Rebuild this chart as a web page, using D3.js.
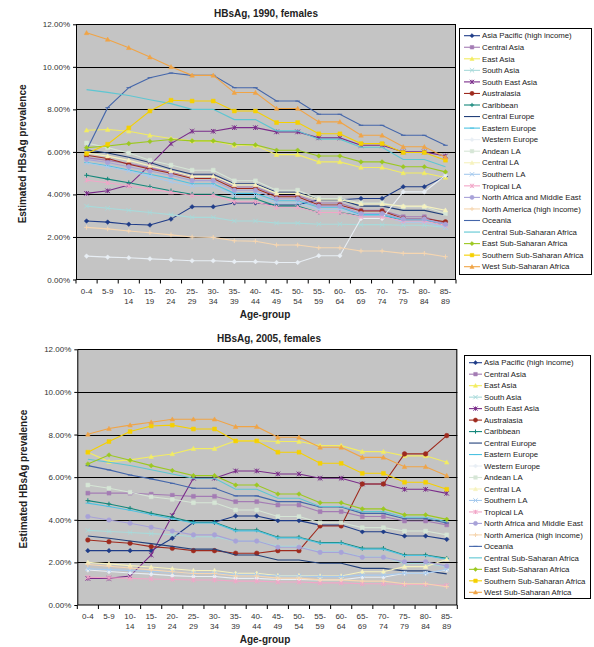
<!DOCTYPE html>
<html><head><meta charset="utf-8">
<script src="https://cdn.jsdelivr.net/npm/d3@7"></script>
<style>
html,body{margin:0;padding:0;background:#fff;}
svg{display:block;font-family:"Liberation Sans",Arial,sans-serif;}
</style></head>
<body><svg id="chart" width="594" height="647"></svg>
<script>
// ---- categories ----
const ageGroups = ["0-4","5-9","10-14","15-19","20-24","25-29","30-34","35-39","40-44","45-49","50-54","55-59","60-64","65-69","70-74","75-79","80-84","85-89"];
const yTicks = [0,2,4,6,8,10,12];
const seriesNames = ["Asia Pacific (high income)","Central Asia","East Asia","South Asia","South East Asia","Australasia","Caribbean","Central Europe","Eastern Europe","Western Europe","Andean LA","Central LA","Southern LA","Tropical LA","North Africa and Middle East","North America (high income)","Oceania","Central Sub-Saharan Africa","East Sub-Saharan Africa","Southern Sub-Saharan Africa","West Sub-Saharan Africa"];
const seriesColors = ["#1F3C88","#A47CB4","#F2EC62","#A8DADA","#7A2C8A","#9E2A1E","#14877A","#22407A","#4CC2E2","#E8EEF4","#D6E6D6","#F6F2BE","#A6CAEE","#F2A6C8","#A8A2D8","#F6D6B0","#4466AA","#5EC6D2","#9CC820","#F5D000","#F0A446"];
const seriesMarkers = ["diamond","square","triangle","x","asterisk","circle","plus","none","dash","diamond","square","triangle","x","asterisk","circle","plus","dash","none","diamond","square","triangle"];

// ---- 1990 females (% prevalence) ----
const asiaPacific1990   = [2.75,2.70,2.60,2.56,2.84,3.42,3.42,3.60,3.60,3.50,3.50,3.75,3.75,3.81,3.81,4.36,4.36,4.86];
const centralAsia1990   = [5.73,5.60,5.45,5.25,5.05,4.85,4.85,4.35,4.35,3.95,3.95,3.60,3.60,3.25,3.25,2.95,2.95,2.62];
const eastAsia1990      = [7.02,7.05,6.97,6.78,6.63,6.52,6.52,6.31,6.31,5.87,5.87,5.53,5.53,5.27,5.27,5.01,5.01,4.80];
const southAsia1990     = [3.45,3.35,3.25,3.15,3.05,2.92,2.92,2.75,2.75,2.65,2.65,2.60,2.60,2.58,2.58,2.55,2.55,2.45];
const southEastAsia1990 = [4.05,4.17,4.44,5.38,6.39,6.97,6.97,7.14,7.14,6.94,6.94,6.66,6.66,6.31,6.31,6.00,6.00,5.81];
const australasia1990   = [5.84,5.69,5.42,5.20,5.00,4.75,4.75,4.28,4.28,3.89,3.89,3.50,3.50,3.22,3.22,2.87,2.87,2.71];
const caribbean1990     = [4.90,4.72,4.55,4.36,4.17,4.01,4.01,3.80,3.80,3.45,3.45,3.15,3.15,3.00,3.00,2.80,2.80,2.55];
const centralEurope1990 = [6.10,5.95,5.75,5.50,5.20,4.95,4.95,4.50,4.50,4.10,4.10,3.75,3.75,3.45,3.45,3.25,3.25,3.03];
const easternEurope1990 = [5.50,5.35,5.15,4.95,4.75,4.50,4.50,4.05,4.05,3.70,3.70,3.40,3.40,3.05,3.05,2.80,2.80,2.60];
const westernEurope1990 = [1.10,1.05,1.02,0.97,0.93,0.88,0.88,0.84,0.84,0.80,0.80,1.12,1.12,2.87,2.87,4.12,4.12,4.90];
const andeanLA1990      = [6.42,6.20,5.95,5.61,5.38,5.14,5.14,4.64,4.64,4.20,4.20,3.81,3.81,3.60,3.60,3.42,3.42,3.10];
const centralLA1990     = [5.95,5.80,5.60,5.35,5.10,4.85,4.85,4.45,4.45,4.05,4.05,3.75,3.75,3.55,3.55,3.45,3.45,3.26];
const southernLA1990    = [5.48,5.30,5.10,4.85,4.60,4.40,4.40,3.95,3.95,3.60,3.60,3.30,3.30,3.00,3.00,2.70,2.70,2.45];
const tropicalLA1990    = [4.67,4.55,4.40,4.25,4.10,3.95,3.95,3.65,3.65,3.40,3.40,3.15,3.15,2.95,2.95,2.75,2.75,2.55];
const northAfricaME1990 = [5.65,5.50,5.30,5.10,4.90,4.65,4.65,4.20,4.20,3.80,3.80,3.45,3.45,3.10,3.10,2.85,2.85,2.60];
const northAmerica1990  = [2.45,2.38,2.28,2.20,2.10,2.00,1.98,1.82,1.80,1.62,1.62,1.49,1.49,1.34,1.34,1.23,1.23,1.07];
const oceania1990       = [6.08,8.08,9.02,9.49,9.71,9.60,9.60,9.02,9.02,8.39,8.39,7.77,7.77,7.25,7.25,6.78,6.78,6.31];
const centralSSA1990    = [8.93,8.80,8.65,8.45,8.27,8.00,8.00,7.52,7.52,6.99,6.99,6.60,6.60,6.22,6.22,5.64,5.64,5.30];
const eastSSA1990       = [6.20,6.28,6.39,6.49,6.58,6.52,6.52,6.36,6.33,6.08,6.08,5.81,5.81,5.53,5.53,5.30,5.30,5.06];
const southernSSA1990   = [5.92,6.36,7.13,7.92,8.43,8.39,8.39,7.92,7.92,7.38,7.38,6.85,6.85,6.39,6.39,5.97,5.97,5.61];
const westSSA1990       = [11.60,11.29,10.90,10.46,10.00,9.60,9.60,8.79,8.79,8.04,8.04,7.41,7.41,6.78,6.78,6.24,6.24,5.75];

// ---- 2005 females (% prevalence) ----
const asiaPacific2005   = [2.55,2.55,2.55,2.55,3.13,3.88,3.88,4.18,4.18,3.96,3.96,3.75,3.75,3.44,3.44,3.24,3.24,3.08];
const centralAsia2005   = [5.25,5.25,5.25,5.20,5.15,5.10,5.10,4.85,4.85,4.69,4.69,4.38,4.38,4.15,4.15,3.94,3.94,3.76];
const eastAsia2005      = [7.17,6.73,6.81,6.96,7.09,7.34,7.34,7.71,7.71,7.67,7.67,7.48,7.48,7.20,7.20,7.00,7.00,6.70];
const southAsia2005     = [3.50,3.45,3.40,3.35,3.30,3.20,3.20,3.00,3.00,2.75,2.75,2.50,2.50,2.25,2.25,1.95,1.95,1.80];
const southEastAsia2005 = [1.25,1.25,1.36,2.35,4.20,5.95,5.95,6.29,6.29,6.15,6.15,5.95,5.95,5.68,5.68,5.43,5.43,5.24];
const australasia2005   = [3.05,2.97,2.90,2.74,2.66,2.55,2.55,2.43,2.43,2.55,2.55,3.71,3.71,5.68,5.68,7.09,7.09,7.95];
const caribbean2005     = [4.90,4.74,4.54,4.30,4.12,3.88,3.88,3.52,3.52,3.18,3.18,2.93,2.93,2.66,2.66,2.35,2.35,2.19];
const centralEurope2005 = [3.24,3.13,3.00,2.88,2.75,2.62,2.62,2.35,2.35,2.11,2.11,1.96,1.96,1.72,1.72,1.60,1.60,1.46];
const easternEurope2005 = [4.78,4.62,4.45,4.25,4.05,3.85,3.85,3.48,3.48,3.15,3.15,2.90,2.90,2.62,2.62,2.32,2.32,2.15];
const westernEurope2005 = [1.64,1.57,1.50,1.45,1.38,1.34,1.34,1.25,1.25,1.20,1.20,1.18,1.18,1.30,1.30,1.49,1.49,1.64];
const andeanLA2005      = [5.63,5.48,5.29,5.08,4.96,4.80,4.80,4.46,4.46,4.15,4.15,3.86,3.86,3.63,3.63,3.47,3.47,3.29];
const centralLA2005     = [2.00,1.93,1.85,1.78,1.70,1.62,1.62,1.49,1.49,1.38,1.38,1.36,1.36,1.56,1.56,1.80,1.80,2.15];
const southernLA2005    = [1.70,1.66,1.62,1.58,1.54,1.50,1.50,1.42,1.42,1.36,1.36,1.33,1.33,1.40,1.40,1.49,1.49,1.68];
const tropicalLA2005    = [1.30,1.28,1.25,1.22,1.20,1.17,1.17,1.12,1.12,1.08,1.08,1.04,1.04,1.00,1.00,0.96,0.96,0.92];
const northAfricaME2005 = [4.15,3.99,3.84,3.65,3.47,3.29,3.29,3.00,3.00,2.71,2.71,2.47,2.47,2.24,2.24,2.03,2.03,1.83];
const northAmerica2005  = [1.90,1.82,1.74,1.65,1.56,1.48,1.48,1.36,1.36,1.26,1.26,1.18,1.18,1.12,1.12,1.00,1.00,0.86];
const oceania2005       = [6.54,6.34,6.10,5.92,5.71,5.48,5.48,5.12,5.12,4.85,4.85,4.60,4.60,4.30,4.30,4.05,4.05,3.85];
const centralSSA2005    = [6.84,6.70,6.55,6.35,6.15,5.95,5.95,5.43,5.43,5.01,5.01,4.62,4.62,4.38,4.38,4.12,4.12,3.91];
const eastSSA2005       = [6.62,7.04,6.79,6.54,6.31,6.07,6.07,5.63,5.63,5.21,5.21,4.80,4.80,4.51,4.51,4.23,4.23,4.02];
const southernSSA2005   = [7.17,7.67,8.14,8.40,8.44,8.26,8.26,7.70,7.70,7.17,7.17,6.65,6.65,6.18,6.18,5.76,5.76,5.43];
const westSSA2005       = [8.01,8.28,8.44,8.58,8.72,8.72,8.72,8.37,8.37,7.87,7.87,7.40,7.40,6.93,6.93,6.49,6.49,6.07];

const values1990 = [asiaPacific1990,centralAsia1990,eastAsia1990,southAsia1990,southEastAsia1990,australasia1990,caribbean1990,centralEurope1990,easternEurope1990,westernEurope1990,andeanLA1990,centralLA1990,southernLA1990,tropicalLA1990,northAfricaME1990,northAmerica1990,oceania1990,centralSSA1990,eastSSA1990,southernSSA1990,westSSA1990];
const values2005 = [asiaPacific2005,centralAsia2005,eastAsia2005,southAsia2005,southEastAsia2005,australasia2005,caribbean2005,centralEurope2005,easternEurope2005,westernEurope2005,andeanLA2005,centralLA2005,southernLA2005,tropicalLA2005,northAfricaME2005,northAmerica2005,oceania2005,centralSSA2005,eastSSA2005,southernSSA2005,westSSA2005];

const svg = d3.select("#chart");

function markerPath(type, r){
  switch(type){
    case "diamond": return `M0,${-r}L${r},0L0,${r}L${-r},0Z`;
    case "square": return `M${-r*0.85},${-r*0.85}h${1.7*r}v${1.7*r}h${-1.7*r}Z`;
    case "triangle": return `M0,${-r}L${r},${r*0.8}L${-r},${r*0.8}Z`;
    case "circle": return d3.symbol(d3.symbolCircle, Math.PI*r*r)();
    default: return null;
  }
}
function strokeMarker(type, r){
  switch(type){
    case "x": return `M${-r},${-r}L${r},${r}M${-r},${r}L${r},${-r}`;
    case "plus": return `M${-r},0L${r},0M0,${-r}L0,${r}`;
    case "asterisk": return `M${-r},${-r}L${r},${r}M${-r},${r}L${r},${-r}M0,${-r}L0,${r}`;
    case "dash": return `M${-r},0L${r},0`;
    default: return null;
  }
}
function drawMarker(g, type, color, x, y, r){
  const fp = markerPath(type, r);
  if(fp){ g.append("path").attr("d",fp).attr("transform",`translate(${x},${y})`).attr("fill",color).attr("stroke",color).attr("stroke-width",0.5); }
  const sp = strokeMarker(type, r);
  if(sp){ g.append("path").attr("d",sp).attr("transform",`translate(${x},${y})`).attr("fill","none").attr("stroke",color).attr("stroke-width",1); }
}

function panel(cfg){
  const g = svg.append("g");
  const x = d3.scaleBand().domain(ageGroups).range([cfg.left, cfg.right]);
  const y = d3.scaleLinear().domain([0,12]).range([cfg.bottom, cfg.top]);
  g.append("rect").attr("x",cfg.left).attr("y",cfg.top).attr("width",cfg.right-cfg.left).attr("height",cfg.bottom-cfg.top).attr("fill","#C4C4C4");
  g.selectAll(".grid").data(yTicks.filter(d=>d>0 && d<12)).enter().append("line")
    .attr("x1",cfg.left).attr("x2",cfg.right).attr("y1",d=>Math.round(y(d))+0.5).attr("y2",d=>Math.round(y(d))+0.5)
    .attr("stroke","#000").attr("stroke-width",1);
  const yAxis = d3.axisLeft(y).tickValues(yTicks).tickFormat(d=>d.toFixed(2)+"%").tickSize(3).tickPadding(3);
  const ya = g.append("g").attr("transform",`translate(${cfg.left},0)`).call(yAxis);
  ya.select(".domain").remove();
  ya.selectAll("text").attr("font-size","8px").attr("fill","#333").attr("font-family","Liberation Sans, Arial, sans-serif");
  ya.selectAll("line").attr("stroke","#000");
  const xa = g.append("g").attr("transform",`translate(0,${cfg.bottom})`);
  const bounds = ageGroups.map((d,i)=>x(d)).concat([cfg.right]);
  xa.selectAll("line").data(bounds).enter().append("line").attr("x1",d=>d).attr("x2",d=>d).attr("y1",0).attr("y2",4).attr("stroke","#000");
  const tl = xa.selectAll("text").data(ageGroups).enter().append("text")
    .attr("x",d=>x(d)+x.bandwidth()/2).attr("y",cfg.tickOffset).attr("text-anchor","middle")
    .attr("font-size","8px").attr("fill","#333");
  tl.each(function(d){
    const t = d3.select(this);
    const parts = d.length>4 ? [d.slice(0,d.indexOf("-")+1), d.slice(d.indexOf("-")+1)] : [d];
    parts.forEach((p,i)=>t.append("tspan").attr("x",x(d)+x.bandwidth()/2).attr("dy",i===0?0:10).text(p));
  });
  g.append("rect").attr("x",cfg.left+0.5).attr("y",Math.round(cfg.top)+0.5).attr("width",cfg.right-cfg.left-1).attr("height",cfg.bottom-Math.round(cfg.top)-0.5).attr("fill","none").attr("stroke","#000").attr("stroke-width",1);
  const line = d3.line().x((d,i)=>x(ageGroups[i])+x.bandwidth()/2).y(d=>y(d));
  cfg.values.forEach((vals,si)=>{
    const sg = g.append("g");
    sg.append("path").datum(vals).attr("d",line).attr("fill","none").attr("stroke",seriesColors[si]).attr("stroke-width",1.1);
    vals.forEach((v,i)=>drawMarker(sg, seriesMarkers[si], seriesColors[si], x(ageGroups[i])+x.bandwidth()/2, y(v), 2.3));
  });
  g.append("text").attr("x",cfg.titleX).attr("y",cfg.titleY).attr("text-anchor","middle").attr("font-size","10px").attr("font-weight","bold").attr("fill","#222").text(cfg.title);
  g.append("text").attr("transform",`translate(${cfg.yLabelX},${(cfg.top+cfg.bottom)/2+2}) rotate(-90)`).attr("text-anchor","middle").attr("font-size","10px").attr("font-weight","bold").attr("fill","#222").text("Estimated HBsAg prevalence");
  g.append("text").attr("x",cfg.xLabelX).attr("y",cfg.xLabelY).attr("text-anchor","middle").attr("font-size","10px").attr("font-weight","bold").attr("fill","#222").text("Age-group");
  const L = cfg.legend;
  g.append("rect").attr("x",L.x+0.5).attr("y",L.y+0.5).attr("width",L.w).attr("height",L.h).attr("fill","#fff").attr("stroke","#000").attr("stroke-width",1);
  seriesNames.forEach((n,i)=>{
    const ly = L.first + i*L.step;
    g.append("line").attr("x1",L.sx0).attr("x2",L.sx1).attr("y1",ly).attr("y2",ly).attr("stroke",seriesColors[i]).attr("stroke-width",1.1);
    drawMarker(g, seriesMarkers[i], seriesColors[i], (L.sx0+L.sx1)/2, ly, 2.1);
    g.append("text").attr("x",L.tx).attr("y",ly+2.7).attr("font-size","7.8px").attr("fill","#222").text(n);
  });
}

panel({id:1, left:76, right:456, top:24.3, bottom:279.5, values:values1990, title:"HBsAg, 1990, females", titleX:266, titleY:17, yLabelX:26, xLabelX:265, xLabelY:318, tickOffset:14,
  legend:{x:459, y:28, w:132, h:246, first:35.7, step:11.55, sx0:464, sx1:480, tx:482}});
panel({id:2, left:77.3, right:457.3, top:349.3, bottom:605, values:values2005, title:"HBsAg, 2005, females", titleX:269, titleY:342, yLabelX:27, xLabelX:265, xLabelY:643, tickOffset:13.5,
  legend:{x:464, y:355, w:126, h:243, first:362.7, step:11.48, sx0:469, sx1:482, tx:484}});
</script>
</body></html>
